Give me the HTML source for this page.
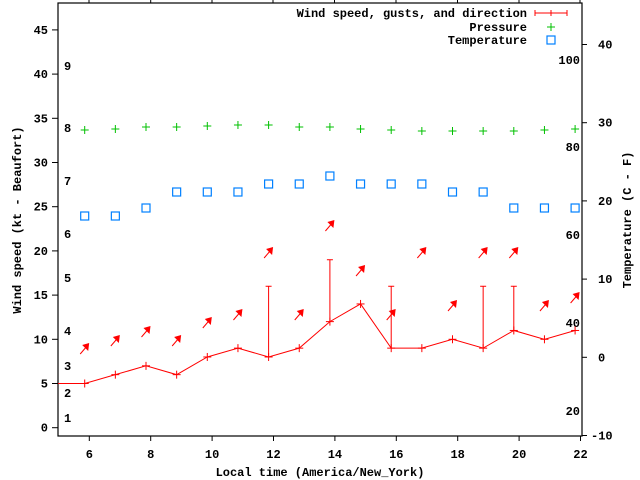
<!DOCTYPE html>
<html><head><meta charset="utf-8"><style>
html,body{margin:0;padding:0;background:#fff;}
svg{display:block;}
text{font-family:"Liberation Mono",monospace;font-weight:bold;font-size:12px;fill:#000;}
</style></head><body>
<svg width="640" height="480" viewBox="0 0 640 480" xmlns="http://www.w3.org/2000/svg">
<rect width="640" height="480" fill="#fff"/>
<g id="plot"></g>
<script>
(function(){
var ns="http://www.w3.org/2000/svg",g=document.getElementById("plot");
function el(t,a,txt){var e=document.createElementNS(ns,t);for(var k in a)e.setAttribute(k,a[k]);if(txt!=null)e.textContent=txt;g.appendChild(e);return e;}
function ln(x1,y1,x2,y2,c,w){el("line",{x1:x1,y1:y1,x2:x2,y2:y2,stroke:c||"#000","stroke-width":w||1});}
var L=58,R=582,T=3,B=436;
el("rect",{x:L,y:T,width:R-L,height:B-T,fill:"none",stroke:"#000","stroke-width":1.2});
function yw(v){return 427.7-8.84*v;}
for(var v=0;v<=45;v+=5){var y=yw(v);ln(L-6,y,L,y);el("text",{x:L-10,y:y+4,"text-anchor":"end"},String(v));}
var bf=[[1,418],[2,393],[3,366],[4,331],[5,278],[6,234],[7,181],[8,128],[9,66]];
bf.forEach(function(b){el("text",{x:64,y:b[1]+4},String(b[0]));});
for(var h=6;h<=22;h+=2){var x=89.3+30.7*(h-6);ln(x,B,x,B+5);el("text",{x:x,y:458,"text-anchor":"middle"},String(h));}
[89,150.7,212,273,334.5,396,457.5,519,580].forEach(function(x){ln(x,0,x,T);});
function yt(c){return 357.3-7.82*c;}
for(var c=-10;c<=40;c+=10){var y=yt(c);ln(R,y,R+5,y);el("text",{x:c<0?591:598,y:y+4},String(c));}
[[20,411],[40,323],[60,235],[80,147],[100,60]].forEach(function(f){el("text",{x:580,y:f[1]+4,"text-anchor":"end"},String(f[0]));});
el("text",{x:320,y:476,"text-anchor":"middle"},"Local time (America/New_York)");
el("text",{x:0,y:0,"text-anchor":"middle",transform:"translate(21,220) rotate(-90)"},"Wind speed (kt - Beaufort)");
el("text",{x:0,y:0,"text-anchor":"middle",transform:"translate(631,220) rotate(-90)"},"Temperature (C - F)");
var xs=[];for(var i=0;i<17;i++)xs.push(84.7+30.65*i);
var ws=[5,6,7,6,8,9,8,9,12,14,9,9,10,9,11,10,11];
var pr=[130,129,127,127,126,125,125,127,127,129,130,131,131,131,131,130,129];
var tp=[216,216,208,192,192,192,184,184,176,184,184,184,192,192,208,208,208];
var gs={6:16,8:19,10:16,13:16,14:16};
var red="#ff0000",grn="#00c000",blu="#0080ff";
xs.forEach(function(x,i){var y=pr[i];ln(x-4,y,x+4,y,grn);ln(x,y-4,x,y+4,grn);});
xs.forEach(function(x,i){el("rect",{x:x-4,y:tp[i]-4,width:8,height:8,fill:"none",stroke:blu,"stroke-width":1.2});});
var pts=L+","+yw(5);xs.forEach(function(x,i){pts+=" "+x+","+yw(ws[i]);});
el("polyline",{points:pts,fill:"none",stroke:red,"stroke-width":1});
xs.forEach(function(x,i){var y=yw(ws[i]);ln(x-4,y,x+4,y,red);ln(x,y-4,x,y+4,red);});
for(var k in gs){var x=xs[k],y1=yw(ws[k]),y2=yw(gs[k]);ln(x,y1,x,y2,red);ln(x-3,y2,x+3,y2,red);}
var ay=[343,335,326,335,317,309,247,309,220,265,309,247,300,247,247,300,292];
xs.forEach(function(x,i){var tx=x+4.5,ty=ay[i];
 ln(tx-9,ty+11,tx-3,ty+4,red);
 el("polygon",{points:tx+","+ty+" "+(tx-7)+","+(ty+2)+" "+(tx-1)+","+(ty+8),fill:red});});
el("text",{x:527,y:17,"text-anchor":"end"},"Wind speed, gusts, and direction");
el("text",{x:527,y:31,"text-anchor":"end"},"Pressure");
el("text",{x:527,y:44,"text-anchor":"end"},"Temperature");
ln(535,13,567,13,red);ln(535,10,535,16,red);ln(567,10,567,16,red);ln(551,10,551,16,red);
ln(547,27,555,27,grn);ln(551,23,551,31,grn);
el("rect",{x:547,y:36,width:8,height:8,fill:"none",stroke:blu,"stroke-width":1.2});
})();
</script>
</svg>
</body></html>
